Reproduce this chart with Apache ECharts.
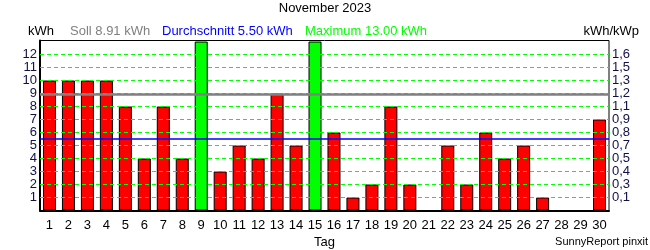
<!DOCTYPE html>
<html><head><meta charset="utf-8">
<script src="https://cdn.jsdelivr.net/npm/echarts@6/dist/echarts.min.js"></script>
<style>html,body{margin:0;padding:0;background:#fff}#c{width:650px;height:250px}</style>
</head><body><div id="c"></div>
<script>
const days = ['1','2','3','4','5','6','7','8','9','10','11','12','13','14','15','16','17','18','19','20','21','22','23','24','25','26','27','28','29','30'];
const energy = [10,10,10,10,8,4,8,4,13,3,5,4,9,5,13,6,1,2,8,2,0,5,2,6,4,5,1,0,0,7];
const leftTicks = ['1','2','3','4','5','6','7','8','9','10','11','12'];
const rightTicks = ['0,1','0,3','0,4','0,5','0,7','0,8','0,9','1,1','1,2','1,3','1,5','1,6'];
const soll = 8.91;
const average = 5.50;
const maximum = 13.00;

const F = 'Liberation Sans, Arial, sans-serif';
const chart = echarts.init(document.getElementById('c'));
const maxVal = Math.max(...energy);
const ts = (c, s) => ({fontFamily: F, fontSize: s || 13, fontWeight: 'normal', color: c});
const gridLine = {color: '#00ff00', width: 1, type: [4, 3]};
const yTop = 13.08;
chart.setOption({
  animation: false,
  backgroundColor: '#fff',
  title: [
    {text: 'November 2023', left: 'center', top: 2, padding: 0, textStyle: ts('#000')},
    {text: 'kWh', left: 28, top: 25, padding: 0, textStyle: ts('#000')},
    {text: 'Soll ' + soll.toFixed(2) + ' kWh', left: 70, top: 25, padding: 0, textStyle: ts('#808080')},
    {text: 'Durchschnitt ' + average.toFixed(2) + ' kWh', left: 162, top: 25, padding: 0, textStyle: ts('#0000ff')},
    {text: 'Maximum ' + maximum.toFixed(2) + ' kWh', left: 305, top: 25, padding: 0, textStyle: ts('#00ff00')},
    {text: 'kWh/kWp', right: 11, top: 25, padding: 0, textStyle: ts('#000')},
    {text: 'SunnyReport pinxit', right: 2, bottom: 3, padding: 0, textStyle: ts('#000', 11)}
  ],
  grid: {left: 40, right: 41, top: 40.5, bottom: 39.5, containLabel: false, outerBoundsMode: 'none',
    show: true, borderColor: '#000', borderWidth: 1, backgroundColor: 'transparent'},
  xAxis: {
    type: 'category', data: days,
    name: 'Tag', nameLocation: 'middle', nameGap: 25,
    nameTextStyle: ts('#000'),
    axisLine: {show: true, lineStyle: {color: '#000', width: 2}},
    axisTick: {show: false},
    axisLabel: {fontFamily: F, fontSize: 13, color: '#000', margin: 8, interval: 0}
  },
  yAxis: [
    {
      type: 'value', min: 0, max: yTop, interval: 1,
      axisLine: {show: true, lineStyle: {color: '#000', width: 2}},
      axisTick: {show: false},
      axisLabel: {fontFamily: F, fontSize: 13, color: '#10104a', margin: 3, lineHeight: 13,
        showMaxLabel: false,
        formatter: v => (v >= 1 && v <= 12) ? leftTicks[v - 1] : ''},
      splitLine: {show: false}
    },
    {
      type: 'value', min: 0, max: yTop, interval: 1, position: 'right',
      axisLine: {show: false}, axisTick: {show: false},
      axisLabel: {fontFamily: F, fontSize: 13, color: '#10104a', margin: 3, lineHeight: 13,
        showMaxLabel: false,
        formatter: v => (v >= 1 && v <= 12) ? rightTicks[v - 1] : ''},
      splitLine: {show: false}
    }
  ],
  series: [
    {
      type: 'line', data: [], z: 1,
      markLine: {
        silent: true, symbol: 'none', label: {show: false}, animation: false,
        lineStyle: gridLine,
        emphasis: {disabled: true},
        data: leftTicks.map(t => ({yAxis: Number(t), lineStyle: gridLine}))
      }
    },
    {
      type: 'bar', data: energy.map(v => ({value: v, itemStyle: {color: v === maxVal ? '#00ff00' : '#ff0000'}})),
      barWidth: 13, z: 2,
      itemStyle: {borderColor: '#000', borderWidth: 1},
      markLine: {
        silent: true, symbol: 'none', label: {show: false}, z: 5,
        data: [
          {yAxis: soll, lineStyle: {color: '#808080', width: 2.5, type: 'solid'}},
          {yAxis: average, lineStyle: {color: '#0000ff', width: 1.5, type: 'solid'}}
        ]
      }
    }
  ]
});
</script>
</body></html>
